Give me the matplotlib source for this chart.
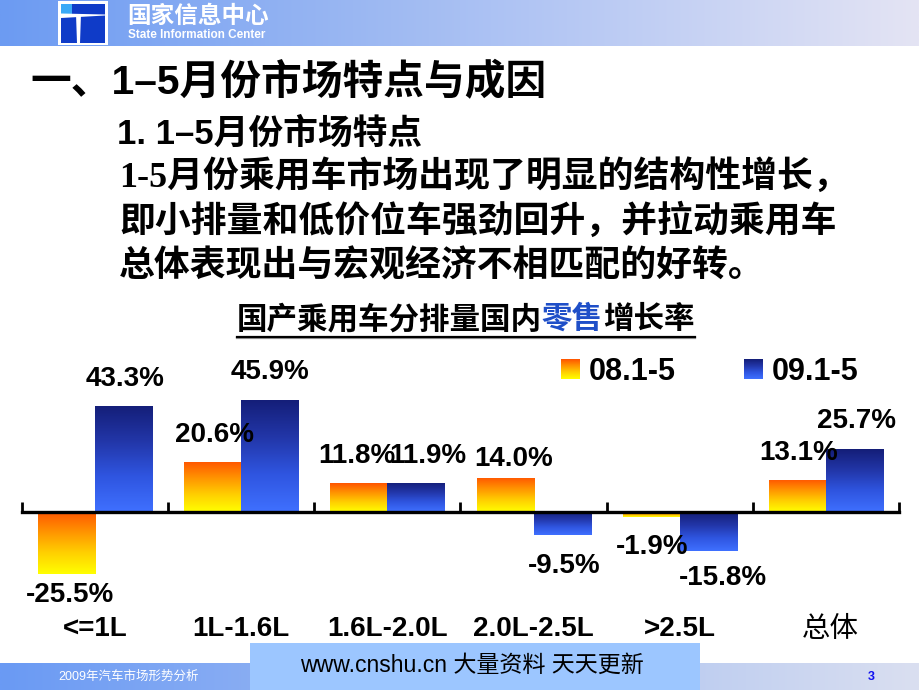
import numpy as np
import matplotlib
matplotlib.use('Agg')
import matplotlib.pyplot as plt
import matplotlib.colors as mcolors
from matplotlib.patches import Rectangle, Polygon
from matplotlib.legend_handler import HandlerBase
from matplotlib.image import BboxImage
from matplotlib.transforms import Bbox, TransformedBbox, blended_transform_factory
from matplotlib.lines import Line2D

# ---------------- data ----------------
categories = ['<=1L', '1L-1.6L', '1.6L-2.0L', '2.0L-2.5L', '>2.5L', '总体']
series_names = ['08.1-5', '09.1-5']
growth_08 = [-25.5, 20.6, 11.8, 14.0, -1.9, 13.1]
growth_09 = [43.3, 45.9, 11.9, -9.5, -15.8, 25.7]

chart_title = ['国产乘用车分排量国内', '零售', '增长率']
main_title = '一、1–5月份市场特点与成因'
sub_title = '1. 1–5月份市场特点'
body_lines = ['1-5月份乘用车市场出现了明显的结构性增长，',
              '即小排量和低价位车强劲回升，并拉动乘用车',
              '总体表现出与宏观经济不相匹配的好转。']

# ---------------- style ----------------
W, H = 920, 690
FAM = ['Liberation Sans', 'Noto Sans CJK SC', 'DejaVu Sans']
plt.rcParams['font.family'] = FAM

ORANGE_STOPS = ['#FF5500', '#FF9500', '#FFD000', '#FFFF00']
BLUE_STOPS = ['#141E78', '#2236A8', '#2F55E0', '#3F70FF']

# label nudges (pixels): horizontal shift, and gap between bar end and text
DX_08 = [3, 2, -2, 9, 1, 1]
DX_09 = [1.5, 0, 12, 2, 15, 2]
GAP_08 = [8, 20, 20, 12, 17, 20]
GAP_09 = [20, 21, 20, 18, 14, 21]


def vgrad(stops, n=128):
    cmap = mcolors.LinearSegmentedColormap.from_list('g', stops)
    return cmap(np.linspace(0, 1, n))[:, None, :3]


def hgrad(c0, c1, n=256):
    a = np.array(mcolors.to_rgb(c0))
    b = np.array(mcolors.to_rgb(c1))
    t = np.linspace(0, 1, n)[None, :, None]
    return a + (b - a) * t


fig = plt.figure(figsize=(W / 100, H / 100), dpi=100)
PX = 72 / fig.dpi  # points per pixel

# background / slide decoration axes in pixel coords
bg = fig.add_axes([0, 0, 1, 1], zorder=0)
bg.axis('off')

# header band
bg.imshow(hgrad('#6C9BF2', '#E4E4F4'), extent=(0, W, 46, 0), aspect='auto',
          interpolation='bilinear', zorder=1)
# footer band
bg.imshow(hgrad('#6A9AF4', '#DADFF0'), extent=(0, W, H, 663), aspect='auto',
          interpolation='bilinear', zorder=1)
bg.set_xlim(0, W)
bg.set_ylim(H, 0)

# logo
bg.add_patch(Rectangle((58, 1), 50, 44, facecolor='white', edgecolor='none', zorder=2))
bg.add_patch(Rectangle((61, 4), 44, 39, facecolor='#0F3BC8', edgecolor='none', zorder=3))
bg.add_patch(Rectangle((61, 4), 11, 10, facecolor='#39A9F7', edgecolor='none', zorder=4))
bg.add_patch(Polygon([(61, 13.5), (105, 14.5), (105, 15.5), (61, 18)], closed=True,
                     facecolor='white', edgecolor='none', zorder=5))
bg.add_patch(Polygon([(76, 14), (81, 14), (80, 43), (77, 43)], closed=True,
                     facecolor='white', edgecolor='none', zorder=5))
bg.text(127, 16, '国家信息中心', color='white', fontsize=17, fontweight='bold',
        ha='left', va='center', zorder=6)
bg.text(128, 35, 'State Information Center', color='white', fontsize=8.5,
        fontweight='bold', ha='left', va='center', zorder=6)

# footer content
bg.add_patch(Rectangle((250, 643), 450, 47, facecolor='#9CC6FF', edgecolor='none', zorder=2))
bg.text(58, 677, '2009年汽车市场形势分析', color='white', fontsize=9,
        ha='left', va='center', zorder=6)
bg.text(472, 665, 'www.cnshu.cn 大量资料 天天更新', color='black', fontsize=16.6,
        ha='center', va='center', zorder=6)
bg.text(871, 677, '3', color='#1010F0', fontsize=9, fontweight='bold',
        ha='center', va='center', zorder=6)

# titles and body text
bg.text(30, 82, main_title, fontsize=29.3, fontweight='bold', ha='left', va='center')
bg.text(117, 134, sub_title, fontsize=25, fontweight='bold', ha='left', va='center')
body_y = [177, 222, 267]
for i, (line, yy) in enumerate(zip(body_lines, body_y)):
    fam = ['Liberation Serif', 'Noto Sans CJK SC'] if i == 0 else FAM
    bg.text(119, yy, line, fontsize=25.8, fontweight='bold', ha='left', va='center',
            family=fam)

# chart title (three runs, middle one in blue) with underline
t_prev = bg.text(237, 320, chart_title[0], fontsize=22, fontweight='bold',
                 ha='left', va='center', color='black')
for part, col in zip(chart_title[1:], ['#1F4FC8', 'black']):
    t_prev = bg.annotate(part, xy=(1, 0.5), xycoords=t_prev, ha='left', va='center',
                         fontsize=22, fontweight='bold', color=col)
bg.add_line(Line2D([237, 695], [338, 338], color='#999999', lw=1.6, zorder=1))
bg.add_line(Line2D([237, 695], [336.5, 336.5], color='black', lw=1.6, zorder=2))

# ---------------- chart ----------------
y_zero_px = 512
px_per_unit = 2.45
ylo, yhi = -30, 50
top_px = y_zero_px - yhi * px_per_unit
bot_px = y_zero_px - ylo * px_per_unit
ax = fig.add_axes([22 / W, (H - bot_px) / H, 877 / W, (bot_px - top_px) / H], zorder=2)
ax.patch.set_alpha(0)

x = np.arange(len(categories))
bw = 0.39
bars08 = ax.bar(x - bw / 2, growth_08, width=bw, facecolor='none', edgecolor='none')
bars09 = ax.bar(x + bw / 2, growth_09, width=bw, facecolor='none', edgecolor='none')

for bars, stops in [(bars08, ORANGE_STOPS), (bars09, BLUE_STOPS)]:
    for b in bars:
        x0, y0 = b.get_x(), b.get_y()
        w, h = b.get_width(), b.get_height()
        lo, hi = min(y0, y0 + h), max(y0, y0 + h)
        im = ax.imshow(vgrad(stops), extent=(x0, x0 + w, lo, hi), origin='upper',
                       aspect='auto', interpolation='bilinear', zorder=2)
        im.set_clip_path(b)

ax.set_xlim(-0.5, len(categories) - 0.5)
ax.set_ylim(ylo, yhi)
for s in ['top', 'left', 'right']:
    ax.spines[s].set_visible(False)
ax.spines['bottom'].set_position(('data', 0))
ax.spines['bottom'].set_linewidth(2.4)
ax.spines['bottom'].set_zorder(3)
ax.set_yticks([])
ax.set_xticks(np.arange(-0.5, len(categories), 1.0))
ax.tick_params(axis='x', direction='in', length=7.5, width=2.0, labelbottom=False)

# value labels
for bars, vals, dxs, gaps in [(bars08, growth_08, DX_08, GAP_08),
                              (bars09, growth_09, DX_09, GAP_09)]:
    for b, v, dx, gap in zip(bars, vals, dxs, gaps):
        cx = b.get_x() + b.get_width() / 2
        if v >= 0:
            ax.annotate(f'{v:.1f}%', xy=(cx, v), xytext=(dx * PX, gap * PX),
                        textcoords='offset points', ha='center', va='baseline',
                        fontsize=20, fontweight='bold', annotation_clip=False, zorder=5)
        else:
            ax.annotate(f'{v:.1f}%', xy=(cx, v), xytext=(dx * PX, -gap * PX),
                        textcoords='offset points', ha='center', va='top',
                        fontsize=20, fontweight='bold', annotation_clip=False, zorder=5)

# category labels
trans = blended_transform_factory(ax.transData, bg.transData)
for xi, c in zip(x, categories):
    if c.isascii():
        fig.text(xi, 629, c, transform=trans, ha='center', va='center', fontsize=20,
                 fontweight='bold', zorder=5)
    else:
        fig.text(xi + 0.03, 630, c, transform=trans, ha='center', va='center',
                 fontsize=20.5, fontweight='normal', zorder=5)


# legend with gradient swatches
class GradHandler(HandlerBase):
    def __init__(self, stops):
        super().__init__()
        self.stops = stops

    def create_artists(self, legend, orig_handle, xdescent, ydescent, width, height,
                       fontsize, trans):
        bb = Bbox.from_bounds(-xdescent, -ydescent, width, height)
        img = BboxImage(TransformedBbox(bb, trans), interpolation='bilinear', origin='upper')
        img.set_data(vgrad(self.stops, 64))
        return [img]


h08 = Rectangle((0, 0), 1, 1, label=series_names[0])
h09 = Rectangle((0, 0), 1, 1, label=series_names[1])
fig.legend(handles=[h08, h09], labels=series_names,
           handler_map={h08: GradHandler(ORANGE_STOPS), h09: GradHandler(BLUE_STOPS)},
           loc='center left', bbox_to_anchor=(561 / W, 1 - 372 / H), ncol=2,
           frameon=False, borderpad=0, borderaxespad=0,
           prop={'size': 22, 'weight': 'bold'},
           handlelength=0.6, handleheight=0.62, handletextpad=0.3,
           columnspacing=2.25)

fig.savefig('out.png', dpi=100)
